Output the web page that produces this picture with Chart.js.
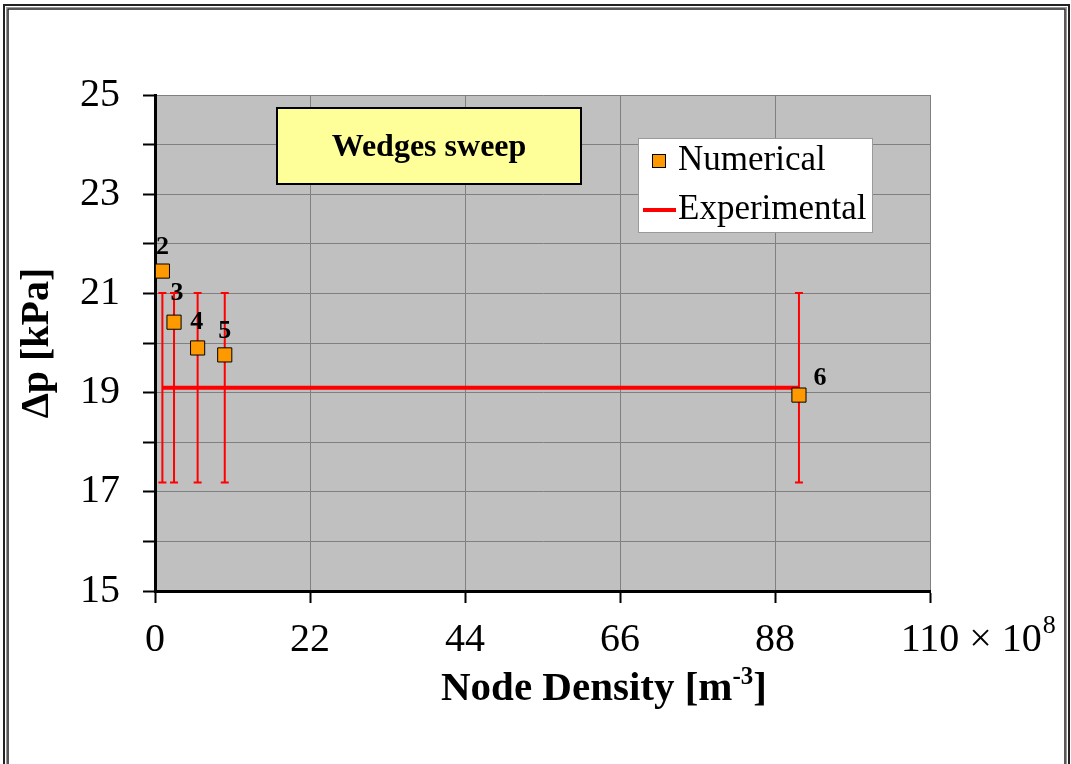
<!DOCTYPE html>
<html><head><meta charset="utf-8">
<script src="https://cdn.jsdelivr.net/npm/chart.js@4.4.0/dist/chart.umd.min.js"></script>
<style>html,body{margin:0;padding:0;background:#fff;}canvas{display:block;}</style>
</head><body>
<canvas id="c" width="1071" height="764"></canvas>
<script>
// ---- data ----
const nodeDensity = [1.05, 2.7, 6.05, 9.9, 91.4];          // x 10^8 m^-3
const numericalDp = [21.45, 20.42, 19.9, 19.76, 18.95];     // kPa
const pointLabels = ['2', '3', '4', '5', '6'];
const experimentalDp = [19.1, 19.1, 19.1, 19.1, 19.1];      // kPa
const experimentalErr = [1.91, 1.91, 1.91, 1.91, 1.91];     // kPa
const xTickValues = [0, 22, 44, 66, 88, 110];
const yLabelValues = [15, 17, 19, 21, 23, 25];
const chartTitle = 'Wedges sweep';
const seriesNames = ['Numerical', 'Experimental'];

const SERIF = '"Liberation Serif", "Times New Roman", serif';
const X_TICK_PAD = 13;

const framePlugin = {
  id: 'frame',
  beforeDraw(chart) {
    const ctx = chart.ctx, a = chart.chartArea;
    ctx.save();
    ctx.fillStyle = '#fff';
    ctx.fillRect(0, 0, chart.width, chart.height);
    // double outer frame
    ctx.strokeStyle = '#222';
    ctx.lineWidth = 2;
    ctx.strokeRect(4, 5, 1065, 820);
    ctx.strokeStyle = '#999';
    ctx.lineWidth = 1;
    ctx.strokeRect(6.5, 7.5, 1060, 820);
    ctx.strokeStyle = '#222';
    ctx.lineWidth = 1.5;
    ctx.strokeRect(8, 9, 1057, 820);
    // plot background
    ctx.fillStyle = '#C0C0C0';
    ctx.fillRect(a.left, a.top, a.right - a.left, a.bottom - a.top);
    ctx.restore();
  }
};

const errorBarPlugin = {
  id: 'errbars',
  afterDatasetDraw(chart, args) {
    if (args.index !== 1) return;
    const ctx = chart.ctx, xs = chart.scales.x, ys = chart.scales.y;
    ctx.save();
    ctx.strokeStyle = '#FF0000';
    ctx.lineWidth = 2;
    nodeDensity.forEach((xv, i) => {
      const px = xs.getPixelForValue(xv);
      const top = ys.getPixelForValue(experimentalDp[i] + experimentalErr[i]);
      const bot = ys.getPixelForValue(experimentalDp[i] - experimentalErr[i]);
      ctx.beginPath();
      ctx.moveTo(px, top); ctx.lineTo(px, bot);
      ctx.moveTo(px - 4, top); ctx.lineTo(px + 4, top);
      ctx.moveTo(px - 4, bot); ctx.lineTo(px + 4, bot);
      ctx.stroke();
    });
    ctx.restore();
  }
};

const labelOffsets = [[0, -17], [3, -22], [-1, -19], [0, -17], [21, -10]];

const overlayPlugin = {
  id: 'overlay',
  afterDraw(chart) {
    const ctx = chart.ctx, xs = chart.scales.x, ys = chart.scales.y;
    ctx.save();
    // point labels
    ctx.fillStyle = '#000';
    ctx.font = 'bold 26px ' + SERIF;
    ctx.textAlign = 'center';
    ctx.textBaseline = 'alphabetic';
    pointLabels.forEach((t, i) => {
      const px = xs.getPixelForValue(nodeDensity[i]);
      const py = ys.getPixelForValue(numericalDp[i]);
      ctx.fillText(t, px + labelOffsets[i][0], py + labelOffsets[i][1]);
    });

    // title box
    ctx.fillStyle = '#FFFF99';
    ctx.fillRect(277, 108, 304, 76);
    ctx.strokeStyle = '#000';
    ctx.lineWidth = 2;
    ctx.strokeRect(277, 108, 304, 76);
    ctx.fillStyle = '#000';
    ctx.font = 'bold 32px ' + SERIF;
    ctx.textAlign = 'center';
    ctx.textBaseline = 'middle';
    ctx.fillText(chartTitle, 429, 148);

    // legend
    ctx.fillStyle = '#fff';
    ctx.fillRect(638, 138, 234, 94);
    ctx.strokeStyle = '#9a9a9a';
    ctx.lineWidth = 1;
    ctx.strokeRect(638.5, 138.5, 234, 94);
    const d0 = chart.data.datasets[0], d1 = chart.data.datasets[1];
    ctx.fillStyle = d0.backgroundColor;
    ctx.fillRect(652, 154, 14, 14);
    ctx.strokeStyle = '#000';
    ctx.lineWidth = 1;
    ctx.strokeRect(652.5, 154.5, 13, 13);
    ctx.strokeStyle = d1.borderColor;
    ctx.lineWidth = 4;
    ctx.beginPath(); ctx.moveTo(643, 210); ctx.lineTo(676, 210); ctx.stroke();
    ctx.fillStyle = '#000';
    ctx.font = '35px ' + SERIF;
    ctx.textAlign = 'left';
    ctx.textBaseline = 'middle';
    ctx.fillText(seriesNames[0], 678, 161);
    ctx.fillText(seriesNames[1], 678, 210);

    // x-axis multiplier next to last tick
    const f = 40;
    ctx.font = f + 'px ' + SERIF;
    const lastPx = xs.getPixelForValue(xTickValues[xTickValues.length - 1]);
    const lastW = ctx.measureText(String(xTickValues[xTickValues.length - 1])).width;
    const ly = xs.top + 12 + X_TICK_PAD + f * 1.2 / 2;
    let cx = lastPx + lastW / 2;
    ctx.textAlign = 'left';
    ctx.textBaseline = 'middle';
    ctx.fillText(' \u00D7 10', cx, ly);
    cx += ctx.measureText(' \u00D7 10').width;
    ctx.font = '26px ' + SERIF;
    ctx.fillText('8', cx + 1, ly - 14);

    // x-axis title with superscript
    const tf = 41;
    ctx.font = 'bold ' + tf + 'px ' + SERIF;
    const p1 = 'Node Density [m', sup = '-3', p2 = ']';
    const w1 = ctx.measureText(p1).width, w3 = ctx.measureText(p2).width;
    ctx.font = 'bold 25px ' + SERIF;
    const w2 = ctx.measureText(sup).width;
    const total = w1 + w2 + w3;
    let tx = 604 - total / 2;
    const ty = 700;
    ctx.textBaseline = 'alphabetic';
    ctx.font = 'bold ' + tf + 'px ' + SERIF;
    ctx.fillText(p1, tx, ty); tx += w1;
    ctx.font = 'bold 25px ' + SERIF;
    ctx.fillText(sup, tx, ty - 16); tx += w2;
    ctx.font = 'bold ' + tf + 'px ' + SERIF;
    ctx.fillText(p2, tx, ty);
    ctx.restore();
  }
};

new Chart(document.getElementById('c'), {
  data: {
    datasets: [
      {
        type: 'scatter',
        label: seriesNames[0],
        data: nodeDensity.map((x, i) => ({ x, y: numericalDp[i] })),
        pointStyle: 'rect',
        pointRadius: 10,
        pointHoverRadius: 10,
        backgroundColor: '#FF9900',
        borderColor: '#000',
        borderWidth: 1,
        showLine: false,
        order: 0
      },
      {
        type: 'line',
        label: seriesNames[1],
        data: nodeDensity.map((x, i) => ({ x, y: experimentalDp[i] })),
        borderColor: '#FF0000',
        backgroundColor: '#FF0000',
        borderWidth: 4,
        pointRadius: 0,
        fill: false,
        tension: 0,
        order: 1
      }
    ]
  },
  options: {
    responsive: false,
    animation: false,
    events: [],
    layout: { padding: { left: 0, top: 95, right: 141, bottom: 0 } },
    plugins: { legend: { display: false }, tooltip: { enabled: false }, title: { display: false } },
    scales: {
      x: {
        type: 'linear',
        position: 'bottom',
        min: 0, max: 110,
        afterBuildTicks: s => { s.ticks = xTickValues.map(v => ({ value: v })); },
        afterFit: s => { s.height = 173; },
        grid: { color: '#808080', lineWidth: 1, tickColor: '#000', tickLength: 12, tickWidth: 2 },
        border: { color: '#000', width: 3 },
        ticks: { color: '#000', font: { family: SERIF, size: 40 }, padding: X_TICK_PAD, maxRotation: 0, autoSkip: false }
      },
      y: {
        type: 'linear',
        position: 'left',
        min: 15, max: 25,
        afterBuildTicks: s => { const t = []; for (let v = 15; v <= 25; v++) t.push({ value: v }); s.ticks = t; },
        afterFit: s => { s.width = 155; },
        grid: { color: '#808080', lineWidth: 1, tickColor: '#000', tickLength: 12, tickWidth: 2 },
        border: { color: '#000', width: 3 },
        ticks: {
          color: '#000', font: { family: SERIF, size: 40 }, padding: 23, autoSkip: false,
          callback: v => yLabelValues.includes(v) ? String(v) : ''
        },
        title: {
          display: true, text: '\u0394p [kPa]', color: '#000',
          font: { family: SERIF, size: 40, weight: 'bold' },
          padding: { top: 14, bottom: 0 }
        }
      }
    }
  },
  plugins: [framePlugin, errorBarPlugin, overlayPlugin]
});
</script>
</body></html>
